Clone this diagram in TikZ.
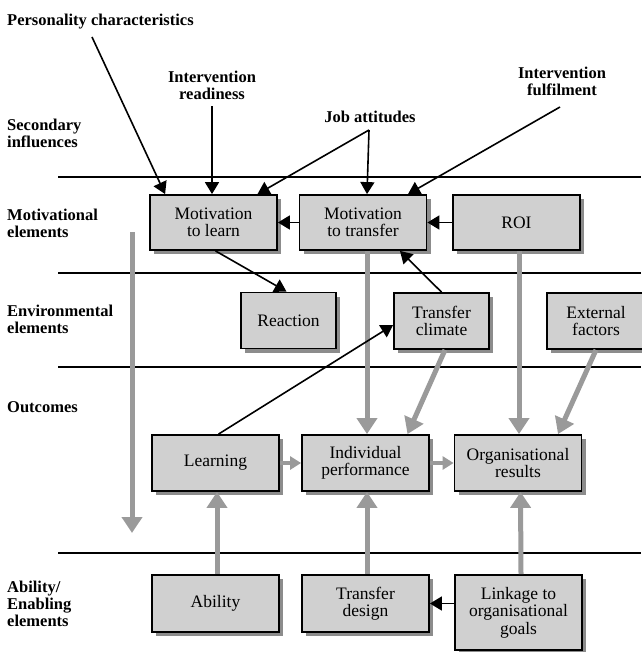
\documentclass[tikz,border=0pt]{standalone}
\usepackage{fontspec}
\setmainfont{Liberation Serif}
\usetikzlibrary{arrows.meta}
\usetikzlibrary{shadows}
\definecolor{boxgray}{HTML}{D0D0D0}
\definecolor{shadowgray}{HTML}{8C8C8C}
\definecolor{arrowgray}{HTML}{9A9A9A}
\begin{document}
\begin{tikzpicture}[x=1pt, y=-1pt,
        font=\fontsize{17.5}{17.5}\selectfont,
        stage/.style={box, minimum width=127pt, minimum height=56pt},
        box/.style={draw, line width=1.8pt, fill=boxgray, align=center, inner sep=0pt,
            drop shadow={shadow xshift=4pt, shadow yshift=-4pt, fill=shadowgray, opacity=1}},
        small/.style={box, minimum width=95pt, minimum height=56pt},
        lbl/.style={font=\fontsize{16.5}{17}\selectfont\bfseries, align=left, inner sep=0pt},
        blackarrow/.style={line width=1.6pt, -{Triangle[length=12pt, width=14pt]}},
        grayarrow/.style={arrowgray, line width=5pt, -{Triangle[length=16pt, width=20pt]}},
        minigray/.style={arrowgray, line width=4pt, -{Triangle[length=11pt, width=13pt]}}]
    \useasboundingbox (0,0) rectangle (641,652);
    % rows
    \foreach \y in {177,273,367,553}
        \draw[line width=1.5pt] (58,\y) -- (641,\y);
    % side labels
    \node[lbl, anchor=north west] (pers) at (7,14) {Personality characteristics};
    \node[lbl, anchor=north west] (secondary) at (7,119) {Secondary\\influences};
    \node[lbl, anchor=north west] (motiv) at (7,209) {Motivational\\elements};
    \node[lbl, anchor=north west] (environ) at (7,305) {Environmental\\elements};
    \node[lbl, anchor=north west] (outcomes) at (7,401) {Outcomes};
    \node[lbl, anchor=north west] (enabling) at (7,581) {Ability/\\Enabling\\elements};
    \node[lbl, anchor=north, align=center] (readiness) at (212,71) {Intervention\\readiness};
    \node[lbl, anchor=north, align=center] (jobatt) at (370,111) {Job attitudes};
    \node[lbl, anchor=north, align=center] (fulfil) at (562,67) {Intervention\\fulfilment};
    \coordinate (pstart) at (92,37);
    \coordinate (jtop) at (369,130);
    \coordinate (fstart) at (560,107);
    % boxes
    \node[stage, minimum height=55pt] (mlearn) at (213.5,222.5) {Motivation\\to learn};
    \node[stage, minimum height=55pt] (mtrans) at (363,222.5) {Motivation\\to transfer};
    \node[stage, minimum height=55pt] (roi) at (516.5,222.5) {ROI};
    \node[small] (reaction) at (288.5,320.5) {Reaction};
    \node[small] (climate) at (441.5,321) {Transfer\\climate};
    \node[small, minimum width=98pt] (external) at (596,321) {External\\factors};
    \node[stage] (learning) at (215.5,463) {Learning};
    \node[stage] (indperf) at (365.5,463) {Individual\\performance};
    \node[stage] (orgres) at (518,463) {Organisational\\results};
    \node[stage, minimum height=57pt] (ability) at (215.5,603.5) {Ability};
    \node[stage, minimum height=57pt] (tdesign) at (365.5,603.5) {Transfer\\design};
    \node[stage, minimum height=75pt] (linkage) at (518.5,612.5) {Linkage to\\organisational\\goals};
    % gray arrows
    \coordinate (gtop) at (132,232);
    \coordinate (gbot) at (132,533);
    \draw[grayarrow] (gtop) -- (gbot);
    \draw[grayarrow] ([xshift=4pt]mtrans.south) -- ([xshift=1.5pt]indperf.north);
    \draw[grayarrow] ([xshift=3.5pt]climate.south) -- ([xshift=42pt]indperf.north);
    \draw[grayarrow] ([xshift=2.5pt]roi.south) -- ([xshift=1pt]orgres.north);
    \draw[grayarrow] (external.south) -- ([xshift=40pt]orgres.north);
    \draw[minigray] (learning.east) -- (indperf.west);
    \draw[minigray] (indperf.east) -- (orgres.west);
    \draw[grayarrow] ([xshift=1.5pt]ability.north) -- ([xshift=1.5pt]learning.south);
    \draw[grayarrow] ([xshift=1.5pt]tdesign.north) -- ([xshift=1.5pt]indperf.south);
    \draw[grayarrow] ([xshift=2.5pt]linkage.north) -- ([xshift=2.5pt]orgres.south);
    % black arrows
    \draw[blackarrow] (pstart) -- ([xshift=16pt]mlearn.north west);
    \draw[blackarrow] ([yshift=-6pt]readiness.south) -- (readiness.south |- mlearn.north);
    \draw[blackarrow] (jtop) -- ([xshift=44pt]mlearn.north);
    \draw[blackarrow] (jtop) -- ([xshift=4pt]mtrans.north);
    \draw[blackarrow] (fstart) -- ([xshift=45pt]mtrans.north);
    \draw[blackarrow] (roi.west) -- (mtrans.east);
    \draw[blackarrow] (mtrans.west) -- (mlearn.east);
    \draw[blackarrow] ([xshift=2pt]mlearn.south) -- ([xshift=-2pt]reaction.north);
    \draw[blackarrow] (climate.north) -- ([xshift=37pt]mtrans.south);
    \draw[blackarrow] ([xshift=3pt]learning.north) -- ([yshift=-4pt]climate.west);
    \draw[blackarrow] (linkage.west |- tdesign.east) -- (tdesign.east);
\end{tikzpicture}
\end{document}
